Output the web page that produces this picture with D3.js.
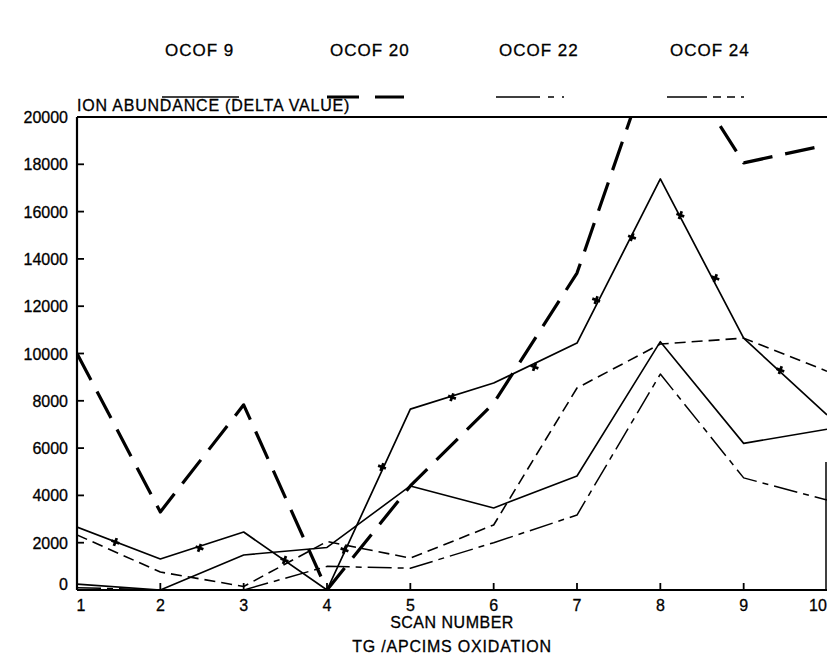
<!DOCTYPE html>
<html>
<head>
  <title>TG / APCIMS Oxidation</title>
  <script src="https://d3js.org/d3.v7.min.js"></script>
  <style>
    body { margin: 0; background: #fff; }
    text {
      font-family: "Liberation Sans", Arial, sans-serif;
      fill: #000;
      stroke: #000;
      stroke-width: 0.3px;
    }
    .series { fill: none; stroke: #000; }
  </style>
</head>
<body>
  <script>
    var width = 828,
        height = 656;

    // scan numbers and values (delta ion abundance)
    var scans = [1, 2, 3, 4, 5, 6, 7, 8, 9, 10];
    var ocof9  = [250, 0, 1480, 1800, 4400, 3470, 4820, 10500, 6200, 6800];
    var ocof20 = [10000, 3300, 7830, 0, 4400, 7900, 13400, 23600, 18060, 18820];
    var ocof22 = [100, 0, 0, 1000, 920, 2000, 3170, 9130, 4740, 3800];
    var ocof24 = [2330, 760, 150, 2050, 1350, 2750, 8540, 10400, 10650, 9250];
    var marked = [2660, 1310, 2450, 0, 7650, 8750, 10440, 17380, 10650, 7400];

    // cross symbols drawn along the marked curve
    var markScans  = [1.46, 2.47, 3.49, 4.21, 4.66, 5.5, 6.49, 7.23, 7.66, 8.24, 8.66, 9.44];
    var markValues = [2030, 1780, 1270, 1700, 5200, 8150, 9430, 12260, 14920, 15850, 13190, 9300];

    var yTicks = [0, 2000, 4000, 6000, 8000, 10000, 12000, 14000, 16000, 18000, 20000];
    var legendNames = ["OCOF 9", "OCOF 20", "OCOF 22", "OCOF 24"];

    // plot box ("top" is taken by window.top, so prefix everything)
    var plotLeft = 77, plotRight = 827, plotTop = 117, plotBottom = 590;

    var x = d3.scaleLinear().domain([1, 10]).range([plotLeft, plotRight]);
    var y = d3.scaleLinear().domain([0, 20000]).range([plotBottom, plotTop]);

    var svg = d3.select("body").append("svg")
        .attr("width", width)
        .attr("height", height);

    svg.append("defs").append("clipPath").attr("id", "plot")
      .append("rect")
        .attr("x", plotLeft).attr("y", plotTop)
        .attr("width", plotRight - plotLeft).attr("height", plotBottom - plotTop);

    // series styles
    var styles = {
      ocof9:  {w: 1.6, dash: null},
      ocof20: {w: 3.2, dash: "30,13"},
      ocof22: {w: 1.5, dash: "24,6,6,6"},
      ocof24: {w: 1.6, dash: "11,6"},
      marked: {w: 1.7, dash: null}
    };

    var line = d3.line()
        .x(function(d) { return x(d[0]); })
        .y(function(d) { return y(d[1]); });

    var series = [
      {key: "ocof9", values: ocof9},
      {key: "ocof22", values: ocof22},
      {key: "ocof24", values: ocof24},
      {key: "marked", values: marked},
      {key: "ocof20", values: ocof20}
    ];

    var g = svg.append("g").attr("clip-path", "url(#plot)");

    series.forEach(function(s) {
      var st = styles[s.key];
      g.append("path")
        .attr("class", "series")
        .attr("d", line(scans.map(function(sc, i) { return [sc, s.values[i]]; })))
        .attr("stroke-width", st.w)
        .attr("stroke-dasharray", st.dash)
        .attr("stroke-linejoin", "round");
    });

    g.selectAll(".mark")
      .data(markScans)
      .enter().append("path")
        .attr("class", "mark")
        .attr("transform", function(d, i) {
          return "translate(" + x(d) + "," + y(markValues[i]) + ") rotate(20)";
        })
        .attr("d", d3.symbol().type(d3.symbolCross).size(38))
        .attr("fill", "#000");

    // frame
    svg.append("line")
        .attr("x1", plotLeft).attr("x2", plotLeft)
        .attr("y1", plotTop).attr("y2", plotBottom)
        .attr("stroke", "#000").attr("stroke-width", 2.2);
    svg.append("line")
        .attr("x1", plotLeft).attr("x2", plotRight)
        .attr("y1", plotBottom).attr("y2", plotBottom)
        .attr("stroke", "#000").attr("stroke-width", 2.2);
    svg.append("line")
        .attr("x1", plotLeft).attr("x2", plotRight)
        .attr("y1", plotTop).attr("y2", plotTop)
        .attr("stroke", "#000").attr("stroke-width", 2);
    svg.append("line")
        .attr("x1", plotRight - 1).attr("x2", plotRight - 1)
        .attr("y1", 462).attr("y2", plotBottom)
        .attr("stroke", "#000").attr("stroke-width", 1.5);

    // y ticks and labels
    svg.selectAll(".ytick")
      .data(yTicks)
      .enter().append("line")
        .attr("x1", plotLeft).attr("x2", plotLeft + 7)
        .attr("y1", function(d) { return y(d); })
        .attr("y2", function(d) { return y(d); })
        .attr("stroke", "#000").attr("stroke-width", 1.8);

    svg.selectAll(".ylabel")
      .data(yTicks)
      .enter().append("text")
        .attr("x", 68)
        .attr("y", function(d) { return Math.min(y(d) + 6, 590); })
        .attr("text-anchor", "end")
        .style("font-size", "16px")
        .text(function(d) { return d; });

    // x ticks and labels
    svg.selectAll(".xtick")
      .data(scans.slice(1, 9))
      .enter().append("line")
        .attr("x1", function(d) { return x(d); })
        .attr("x2", function(d) { return x(d); })
        .attr("y1", plotBottom).attr("y2", plotBottom - 7)
        .attr("stroke", "#000").attr("stroke-width", 1.8);

    svg.selectAll(".xlabel")
      .data(scans)
      .enter().append("text")
        .attr("x", function(d) { return d === 10 ? x(d) - 9 : x(d) + (d === 1 ? 4 : 0); })
        .attr("y", 611)
        .attr("text-anchor", "middle")
        .style("font-size", "16px")
        .text(function(d) { return d; });

    svg.append("text")
        .attr("x", (plotLeft + plotRight) / 2)
        .attr("y", 628)
        .attr("text-anchor", "middle")
        .style("font-size", "16px")
        .style("letter-spacing", "0.5px")
        .text("SCAN NUMBER");

    svg.append("text")
        .attr("x", (plotLeft + plotRight) / 2)
        .attr("y", 652)
        .attr("text-anchor", "middle")
        .style("font-size", "16px")
        .style("letter-spacing", "0.8px")
        .text("TG /APCIMS OXIDATION");

    svg.append("text")
        .attr("x", plotLeft)
        .attr("y", 111)
        .style("font-size", "16px")
        .style("letter-spacing", "0.8px")
        .text("ION ABUNDANCE (DELTA VALUE)");

    // legend
    var legendX = [165, 330, 499, 670];
    var legendKeys = ["ocof9", "ocof20", "ocof22", "ocof24"];
    var legendDash = [null, "32,16", "44,8,6,8,2", "40,6,8,6,8,6"];

    legendNames.forEach(function(name, i) {
      svg.append("text")
          .attr("x", legendX[i])
          .attr("y", 56)
          .style("font-size", "17px")
          .style("letter-spacing", "1px")
          .text(name);
      svg.append("line")
          .attr("x1", legendX[i] - 3).attr("x2", legendX[i] + 74)
          .attr("y1", 97).attr("y2", 97)
          .attr("stroke", "#000")
          .attr("stroke-width", styles[legendKeys[i]].w)
          .attr("stroke-dasharray", legendDash[i]);
    });
  </script>
</body>
</html>
